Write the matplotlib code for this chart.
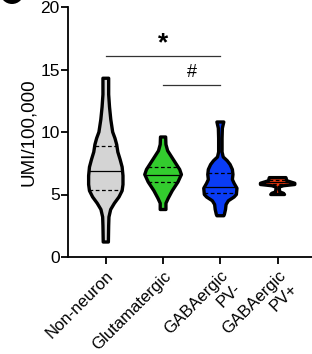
import numpy as np
import matplotlib
matplotlib.use("Agg")
import matplotlib.pyplot as plt
from matplotlib.patches import Ellipse

plt.rcParams['font.family'] = ['Liberation Sans', 'DejaVu Sans']

categories = ["Non-neuron", "Glutamatergic", "GABAergic\nPV-", "GABAergic\nPV+"]
colors = ["#d4d4d4", "#33cc2e", "#0a3cf5", "#f03a10"]

# violin outlines: y levels and half widths
nonneuron_y = [1.2, 2.5, 3.2, 3.8, 4.3, 4.8, 5.3, 5.8, 6.5, 7.2, 7.8, 8.4, 9.0, 9.5, 10.0, 11.0, 12.0, 13.0, 14.3]
nonneuron_w = [0.045, 0.05, 0.055, 0.085, 0.15, 0.23, 0.285, 0.30, 0.30, 0.285, 0.25, 0.21, 0.19, 0.16, 0.12, 0.087, 0.065, 0.05, 0.05]
glut_y = [3.8, 4.3, 4.7, 5.3, 6.0, 6.6, 7.0, 7.5, 8.0, 8.5, 9.0, 9.6]
glut_w = [0.05, 0.05, 0.09, 0.16, 0.26, 0.32, 0.29, 0.22, 0.15, 0.08, 0.05, 0.045]
pvneg_y = [3.3, 3.4, 3.8, 4.2, 4.5, 4.8, 5.0, 5.5, 5.9, 6.2, 6.6, 7.0, 7.4, 7.7, 8.0, 8.4, 9.5, 10.3, 10.8]
pvneg_w = [0.06, 0.07, 0.09, 0.10, 0.14, 0.24, 0.28, 0.29, 0.24, 0.21, 0.22, 0.21, 0.17, 0.12, 0.05, 0.03, 0.03, 0.035, 0.06]
pvpos_y = [5.0, 5.1, 5.2, 5.4, 5.6, 5.7, 5.8, 5.9, 6.1, 6.35]
pvpos_w = [0.12, 0.10, 0.04, 0.03, 0.03, 0.10, 0.30, 0.30, 0.16, 0.145]

medians = [6.9, 6.6, 5.6, 6.0]
q1 = [5.4, 6.0, 5.1, 5.85]
q3 = [8.9, 7.2, 6.7, 6.15]

sig_star = (0, 2, 16.05, "*")
sig_hash = (1, 2, 13.8, "#")

profiles = [(nonneuron_y, nonneuron_w), (glut_y, glut_w), (pvneg_y, pvneg_w), (pvpos_y, pvpos_w)]

W, H = 312, 354
fig = plt.figure(figsize=(W / 100, H / 100), dpi=100)
ax = fig.add_axes([68 / W, (H - 257) / H, 1 - 68 / W, (257 - 7) / H])

for i, ((ys, ws), c) in enumerate(zip(profiles, colors)):
    ys = np.array(ys); ws = np.array(ws)
    xs = np.concatenate([i - ws, (i + ws)[::-1]])
    yy = np.concatenate([ys, ys[::-1]])
    ax.fill(xs, yy, facecolor=c, edgecolor="black", lw=2.4, joinstyle="round", zorder=2)
    for val, ls in [(medians[i], "-"), (q1[i], (0, (3, 2))), (q3[i], (0, (3, 2)))]:
        w = np.interp(val, ys, ws)
        ax.plot([i - w, i + w], [val, val], color="black", lw=0.9, ls=ls, zorder=3)

ax.plot([sig_star[0], sig_star[1]], [sig_star[2]] * 2, color="#333333", lw=0.9, zorder=3)
ax.text((sig_star[0] + sig_star[1]) / 2, sig_star[2] + 0.05, sig_star[3], ha="center",
        va="bottom", fontsize=19, fontweight="bold")
ax.plot([sig_hash[0], sig_hash[1]], [sig_hash[2]] * 2, color="#333333", lw=0.9, zorder=3)
ax.text((sig_hash[0] + sig_hash[1]) / 2, sig_hash[2] + 0.3, sig_hash[3], ha="center",
        va="bottom", fontsize=13)

ax.set_xlim(-0.66, 3.6)
ax.set_ylim(0, 20)
ax.set_yticks([0, 5, 10, 15, 20])
ax.set_xticks(range(len(categories)))
ax.set_xticklabels(categories, rotation=45, ha="right", rotation_mode="anchor",
                   multialignment="right", fontsize=12)
ax.tick_params(axis="y", labelsize=12.5, length=5, width=1.3, pad=1)
ax.tick_params(axis="x", length=5, width=1.3, pad=3)
ax.set_ylabel("UMI/100,000", fontsize=13.5, labelpad=2)
for s in ["top", "right"]:
    ax.spines[s].set_visible(False)
for s in ["left", "bottom"]:
    ax.spines[s].set_linewidth(1.3)
ax.patch.set_alpha(0)

fig.patches.append(Ellipse((12 / W, 1 + 8 / H), 24 / W, 24 / H, transform=fig.transFigure,
                           facecolor="black", edgecolor="none"))

fig.savefig("out.png", dpi=100)
